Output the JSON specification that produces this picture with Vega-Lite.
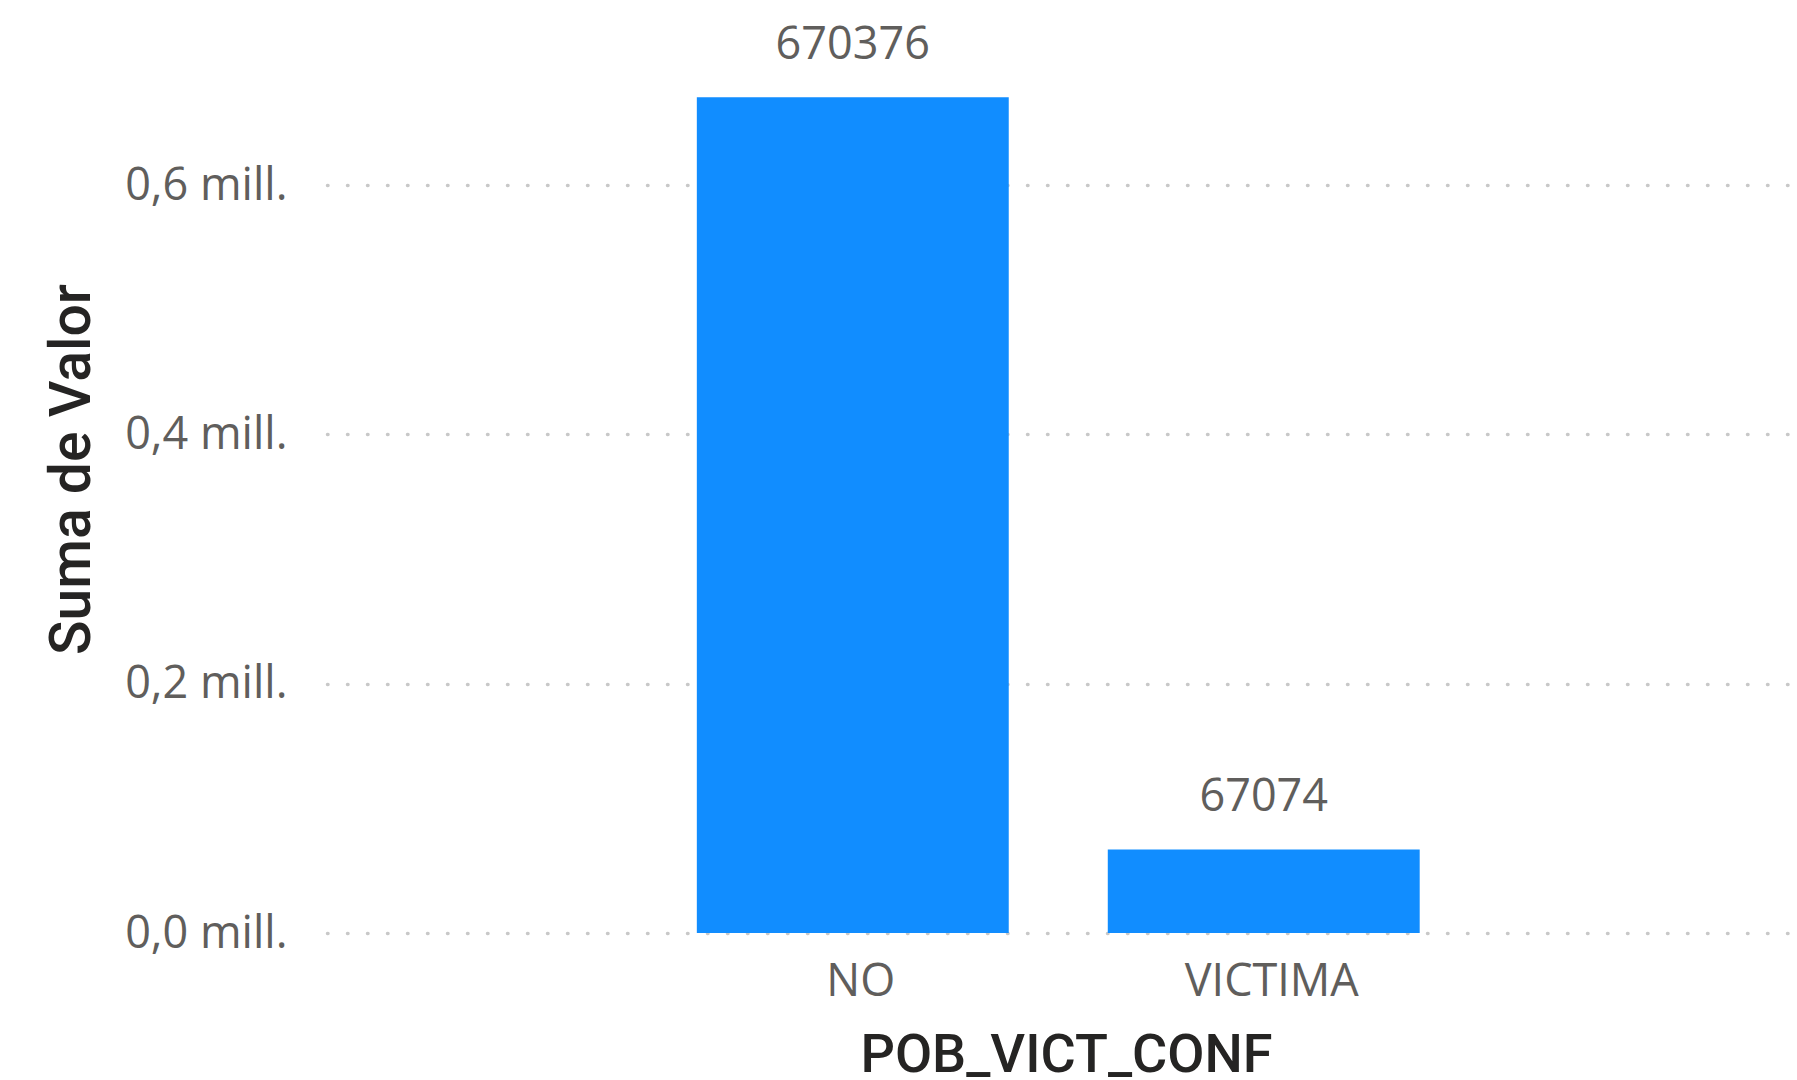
{
  "$schema": "https://vega.github.io/schema/vega-lite/v6.json",
  "autosize": "none",
  "width": 1470,
  "height": 933,
  "padding": {"left": 327, "top": 0, "right": 0, "bottom": 147},
  "background": "white",
  "data": {"values": [
    {"POB_VICT_CONF": "NO", "Valor": 670376},
    {"POB_VICT_CONF": "VICTIMA", "Valor": 67074}
  ]},
  "encoding": {
    "x": {
      "field": "POB_VICT_CONF", "type": "nominal", "sort": null,
      "scale": {"paddingInner": 0.241, "paddingOuter": 0.909, "align": 0.495},
      "axis": {
        "title": "POB_VICT_CONF",
        "labelAngle": 0, "labelFont": "Open Sans", "labelFontSize": 45, "labelColor": "#605E5C",
        "labelPadding": 26, "labelOffset": 8, "ticks": false, "domain": false,
        "titleFont": "Roboto", "titleFontWeight": 500, "titleFontSize": 54, "titleColor": "#252423",
        "titleBaseline": "alphabetic", "titleX": 739, "titleY": 138, "titleAlign": "center"
      }
    },
    "y": {
      "field": "Valor", "type": "quantitative",
      "scale": {"domain": [0, 748400], "nice": false},
      "axis": {
        "title": "Suma de Valor",
        "values": [0, 200000, 400000, 600000],
        "labelExpr": "replace(format(datum.value/1000000, '.1f'), '.', ',') + ' mill.'",
        "labelFont": "Open Sans", "labelFontSize": 45, "labelColor": "#605E5C", "labelPadding": 40,
        "ticks": false, "domain": false,
        "grid": true, "gridColor": "#c8c8c8", "gridWidth": 3.5, "gridDash": [0.5, 19.5], "gridCap": "round",
        "titleFont": "Roboto", "titleFontWeight": 500, "titleFontSize": 57, "titleColor": "#252423",
        "titleAngle": -90, "titleBaseline": "alphabetic", "titleAlign": "center", "titleX": -238, "titleY": 469
      }
    }
  },
  "layer": [
    {"mark": {"type": "bar", "color": "#118DFF"}},
    {
      "mark": {"type": "text", "font": "Open Sans", "fontSize": 45, "color": "#605E5C", "baseline": "alphabetic", "dy": -38},
      "encoding": {"text": {"field": "Valor", "type": "quantitative", "format": "d"}}
    }
  ],
  "config": {"view": {"stroke": null}}
}
